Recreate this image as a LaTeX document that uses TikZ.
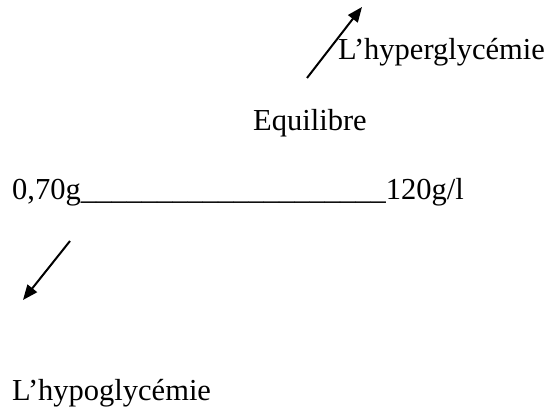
\documentclass[tikz,border=0pt]{standalone}
\usepackage{fontspec}
\setmainfont{Liberation Serif}
\usetikzlibrary{arrows.meta}

\begin{document}
\begin{tikzpicture}[x=1pt,y=-1pt,
  txt/.style={anchor=base west,inner sep=0pt,font=\fontsize{30.5}{36}\selectfont},
  arr/.style={-{Triangle[length=15pt,width=12pt]},line width=2pt,black}
]
\useasboundingbox (0,0) rectangle (558,412);

% Lines of text (baselines)
\node[txt] (hyper) at (338,60)  {L’hyperglycémie};
\node[txt] (equi)  at (253,131) {Equilibre};
\node[txt] (range) at (12,200)  {0,70g\_\_\_\_\_\_\_\_\_\_\_\_\_\_\_\_\_\_\_\_120g/l};
\node[txt] (hypo)  at (12,400)  {L’hypoglycémie};

% Arrow ends
\coordinate (uptail) at (307,78);
\coordinate (uptip)  at (362,7);
\coordinate (dntail) at (70,241);
\coordinate (dntip)  at (23,300);

\draw[arr] (uptail) -- (uptip);
\draw[arr] (dntail) -- (dntip);
\end{tikzpicture}
\end{document}
